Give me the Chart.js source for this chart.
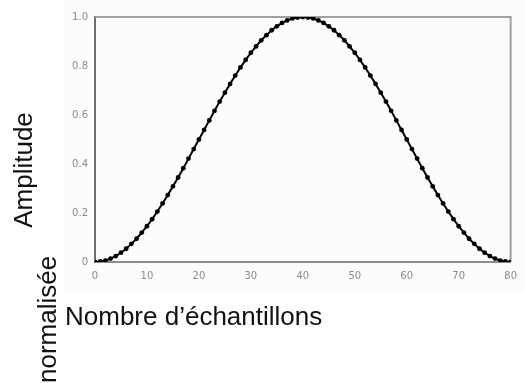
<!DOCTYPE html>
<html>
<head>
<meta charset="utf-8">
<script src="https://cdn.jsdelivr.net/npm/chart.js@4/dist/chart.umd.min.js"></script>
<style>
  html, body { margin: 0; padding: 0; background: #ffffff; }
  canvas { display: block; }
</style>
</head>
<body>
<canvas id="chart" width="525" height="383" style="width:525px;height:383px"></canvas>
<script>
// Sample index (0..80) and normalised amplitude of the window
const samples = [
  0, 1, 2, 3, 4, 5, 6, 7, 8, 9, 10, 11, 12, 13, 14, 15, 16, 17, 18, 19, 20,
  21, 22, 23, 24, 25, 26, 27, 28, 29, 30, 31, 32, 33, 34, 35, 36, 37, 38, 39, 40,
  41, 42, 43, 44, 45, 46, 47, 48, 49, 50, 51, 52, 53, 54, 55, 56, 57, 58, 59, 60,
  61, 62, 63, 64, 65, 66, 67, 68, 69, 70, 71, 72, 73, 74, 75, 76, 77, 78, 79, 80
];
const amplitude = [
  0, 0.002, 0.006, 0.014, 0.024, 0.038, 0.054, 0.074, 0.095, 0.120, 0.146,
  0.175, 0.206, 0.239, 0.273, 0.309, 0.345, 0.383, 0.422, 0.461, 0.500,
  0.539, 0.578, 0.617, 0.655, 0.691, 0.727, 0.761, 0.794, 0.825, 0.854,
  0.880, 0.905, 0.926, 0.946, 0.962, 0.976, 0.986, 0.994, 0.998, 1.000,
  0.998, 0.994, 0.986, 0.976, 0.962, 0.946, 0.926, 0.905, 0.880, 0.854,
  0.825, 0.794, 0.761, 0.727, 0.691, 0.655, 0.617, 0.578, 0.539, 0.500,
  0.461, 0.422, 0.383, 0.345, 0.309, 0.273, 0.239, 0.206, 0.175, 0.146,
  0.120, 0.095, 0.074, 0.054, 0.038, 0.024, 0.014, 0.006, 0.002, 0
];
const xTickValues = [0, 10, 20, 30, 40, 50, 60, 70, 80];
const xTickLabels = ['0', '10', '20', '30', '40', '50', '60', '70', '80'];
const yTickValues = [0, 0.2, 0.4, 0.6, 0.8, 1.0];
const yTickLabels = ['0', '0.2', '0.4', '0.6', '0.8', '1.0'];
const xTitle = 'Nombre d\u2019\u00e9chantillons';
const yTitleLines = ['Amplitude', 'normalis\u00e9e'];

const points = samples.map((s, i) => ({ x: s, y: amplitude[i] }));

const tickFont = { family: 'DejaVu Sans', size: 10 };
const tickColor = '#8a8a8a';

// faint panel behind the plot, the frame's top/right edges, and the axis titles
const decorations = {
  id: 'decorations',
  beforeDraw(chart) {
    const ctx = chart.ctx;
    ctx.save();
    ctx.fillStyle = '#fcfcfc';
    ctx.fillRect(63, 0, 462, 291);
    ctx.restore();
  },
  beforeDatasetsDraw(chart) {
    const { ctx, chartArea: a } = chart;
    ctx.save();
    ctx.strokeStyle = '#a0a0a0';
    ctx.lineWidth = 2;
    ctx.beginPath();
    ctx.moveTo(a.left, a.top);
    ctx.lineTo(a.right, a.top);
    ctx.lineTo(a.right, a.bottom);
    ctx.stroke();
    ctx.restore();
  },
  afterDraw(chart) {
    const ctx = chart.ctx;
    ctx.save();
    ctx.fillStyle = '#111111';
    ctx.font = '26px "Liberation Sans", Arial, sans-serif';
    ctx.textBaseline = 'alphabetic';
    ctx.textAlign = 'left';
    ctx.fillText(xTitle, 65, 325);

    ctx.translate(32, 170);
    ctx.rotate(-Math.PI / 2);
    ctx.textAlign = 'center';
    ctx.fillText(yTitleLines[0], 0, 0);
    ctx.restore();

    ctx.save();
    ctx.fillStyle = '#111111';
    ctx.font = '26px "Liberation Sans", Arial, sans-serif';
    ctx.translate(56, 383);
    ctx.rotate(-Math.PI / 2);
    ctx.textAlign = 'left';
    ctx.fillText(yTitleLines[1], 0, 0);
    ctx.restore();
  }
};

new Chart(document.getElementById('chart'), {
  type: 'line',
  data: {
    datasets: [{
      data: points,
      borderColor: '#000000',
      borderWidth: 2,
      pointStyle: 'circle',
      pointRadius: 2.4,
      pointBackgroundColor: '#000000',
      pointBorderWidth: 0,
      tension: 0,
      fill: false
    }]
  },
  options: {
    responsive: false,
    devicePixelRatio: 1,
    animation: false,
    layout: { padding: { left: 0, top: 17, right: 7, bottom: 0 } },
    plugins: { legend: { display: false }, tooltip: { enabled: false } },
    scales: {
      x: {
        type: 'linear',
        min: 0,
        max: 80,
        afterBuildTicks(scale) { scale.ticks = xTickValues.map(v => ({ value: v })); },
        afterFit(scale) { scale.height = 121; },
        grid: { display: false, drawTicks: false },
        border: { display: true, color: '#8c8c8c', width: 2 },
        ticks: {
          padding: 8,
          color: tickColor,
          font: tickFont,
          maxRotation: 0,
          callback: (v, i) => xTickLabels[i]
        }
      },
      y: {
        type: 'linear',
        min: 0,
        max: 1,
        afterBuildTicks(scale) { scale.ticks = yTickValues.map(v => ({ value: v })); },
        afterFit(scale) { scale.width = 95; },
        grid: { display: false, drawTicks: false },
        border: { display: true, color: '#6e6e6e', width: 2 },
        ticks: {
          padding: 7,
          color: tickColor,
          font: tickFont,
          callback: (v, i) => yTickLabels[i]
        }
      }
    }
  },
  plugins: [decorations]
});
</script>
</body>
</html>
